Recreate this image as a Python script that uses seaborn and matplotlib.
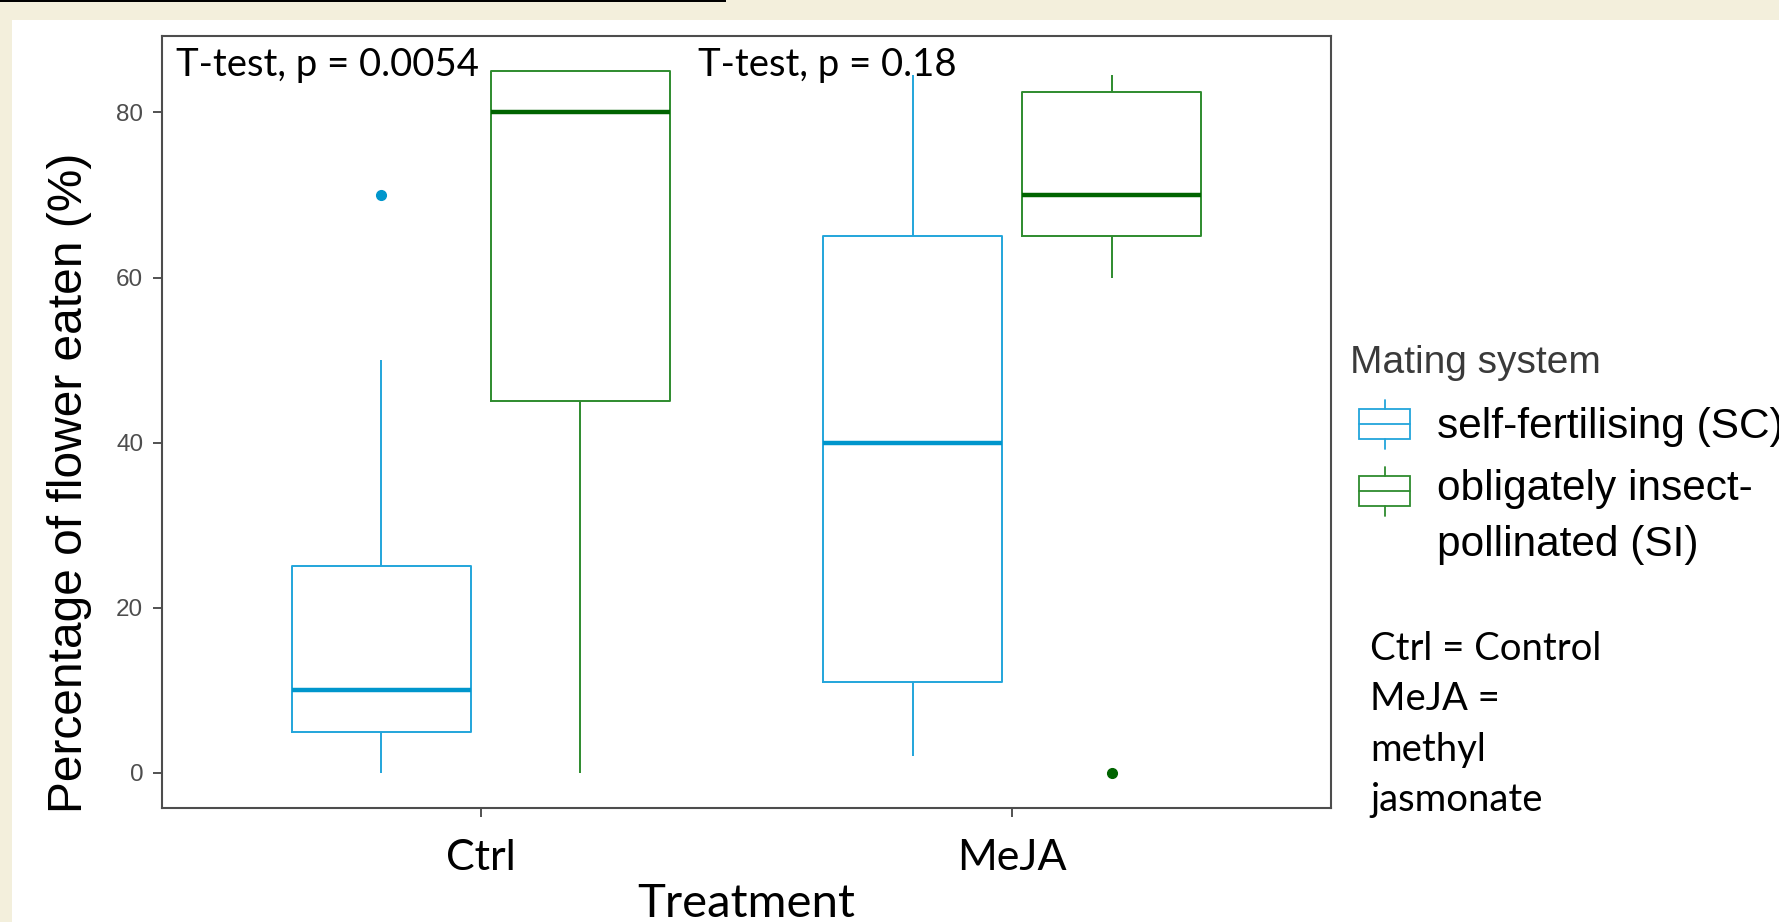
import pandas as pd
import seaborn as sns
import matplotlib.pyplot as plt
from matplotlib.patches import Rectangle, Patch
from matplotlib.lines import Line2D
from matplotlib.legend_handler import HandlerBase
from matplotlib.colors import to_hex

# Data: percentage of flower eaten, per treatment and mating system
treatments = ["Ctrl", "MeJA"]
systems = ["self-fertilising (SC)", "obligately insect-\npollinated (SI)"]
ctrl_sc = [0, 5, 5, 10, 10, 20, 25, 50, 70]
ctrl_si = [0, 40, 45, 70, 80, 80, 85, 85, 85]
meja_sc = [2, 10, 11, 30, 40, 50, 65, 80, 84.5]
meja_si = [0, 60, 65, 70, 70, 80, 82.5, 84, 84.5]
p_labels = ["T-test, p = 0.0054", "T-test, p = 0.18"]
y_ticks = [0, 20, 40, 60, 80]

groups = [("Ctrl", systems[0], ctrl_sc), ("Ctrl", systems[1], ctrl_si),
          ("MeJA", systems[0], meja_sc), ("MeJA", systems[1], meja_si)]
df = pd.DataFrame([{"Treatment": t, "Mating": m, "pct": v}
                   for t, m, vals in groups for v in vals])

blue_line, blue_dark = "#22a5db", "#0096cc"
green_line, green_dark = "#2e8b2e", "#006400"
dark_of = {blue_line: blue_dark, green_line: green_dark}

sns.set_style("white")
plt.rcParams["text.color"] = "black"
plt.rcParams["axes.labelcolor"] = "black"

fig = plt.figure(figsize=(17.79, 9.22), dpi=100, facecolor="#f3efdc")
# white slide panel and thin black rule at the top
fig.patches.append(Rectangle((12 / 1779, 0), 1, 1 - 20 / 922, transform=fig.transFigure,
                             facecolor="white", edgecolor="none", zorder=-10))
fig.patches.append(Rectangle((0, 1 - 2 / 922), 726 / 1779, 2 / 922, transform=fig.transFigure,
                             facecolor="black", edgecolor="none", zorder=-10))

ax = fig.add_axes([162 / 1779, 114 / 922, 1169 / 1779, 772 / 922])
ax.set_facecolor("white")

sns.boxplot(data=df, x="Treatment", y="pct", hue="Mating", order=treatments,
            hue_order=systems, palette=[blue_line, green_line], fill=False,
            width=0.75, gap=0.1, linewidth=1.4, showcaps=False, fliersize=7,
            flierprops={"marker": "o"}, medianprops={"linewidth": 3.2},
            legend=False, ax=ax)

# darker medians and solid outlier dots
for line in ax.lines:
    c = to_hex(line.get_color())
    if line.get_marker() == "o":
        c = to_hex(line.get_markeredgecolor())
        d = dark_of.get(c, c)
        line.set_markeredgecolor(d)
        line.set_markerfacecolor(d)
    elif line.get_linewidth() > 2:
        line.set_color(dark_of.get(c, c))

ax.set_xlim(-0.6, 1.6)
ax.set_ylim(-4.25, 89.25)
ax.set_yticks(y_ticks)
ax.set_yticklabels([str(v) for v in y_ticks], family="Liberation Sans", fontsize=17.5,
                   color="#4d4d4d")
ax.set_xticks([0, 1])
ax.set_xticklabels(treatments, family="Lato", fontsize=31, color="black")
ax.tick_params(axis="both", length=6.5, width=1.2, color="#333333", left=True, bottom=True)
ax.tick_params(axis="y", pad=7)
ax.tick_params(axis="x", pad=16)
for s in ax.spines.values():
    s.set_visible(True)
    s.set_color("#4d4d4d")
    s.set_linewidth(1.5)

ax.set_xlabel("Treatment", family="Lato", fontsize=34, labelpad=4)
ax.set_ylabel("Percentage of flower eaten (%)", family="Liberation Sans", fontsize=34.5)
ax.yaxis.set_label_coords(-0.06, 0.421)

ax.text(-0.574, 84.4, p_labels[0], family="Lato", fontsize=27.5, va="baseline")
ax.text(0.409, 84.4, p_labels[1], family="Lato", fontsize=27.5, va="baseline")


class BoxKey(HandlerBase):
    # ggplot-style boxplot key; dy lifts the glyph to the first line of a wrapped label
    def __init__(self, dy=0.0):
        super().__init__()
        self.dy = dy

    def create_artists(self, legend, orig_handle, xdescent, ydescent, width, height,
                       fontsize, trans):
        c = orig_handle.get_edgecolor()
        gw, gh = 36.7, 35.3
        x0 = -xdescent + 6.5
        y0 = -ydescent + (height - gh) / 2 + self.dy * fontsize
        xm = x0 + gw / 2
        b0, b1 = y0 + 0.19 * gh, y0 + 0.81 * gh
        kw = dict(color=c, lw=1.3, transform=trans)
        box = Rectangle((x0, b0), gw, b1 - b0, fill=False, edgecolor=c, lw=1.3,
                        transform=trans)
        med = Line2D([x0, x0 + gw], [(b0 + b1) / 2] * 2, **kw)
        w1 = Line2D([xm, xm], [y0, b0], **kw)
        w2 = Line2D([xm, xm], [b1, y0 + gh], **kw)
        return [box, med, w1, w2]


h_sc, h_si = Patch(edgecolor=blue_line), Patch(edgecolor=green_line)
leg = ax.legend([h_sc, h_si], systems, title="Mating system", loc="upper left",
                bbox_to_anchor=(1350 / 1779, 1 - 345 / 922), bbox_transform=fig.transFigure,
                frameon=False, borderpad=0, borderaxespad=0, handlelength=1.416,
                handleheight=1.15, handletextpad=0.646, labelspacing=0.52,
                prop={"family": "Liberation Sans", "size": 30.5},
                title_fontproperties={"family": "Liberation Sans", "size": 28},
                alignment="left",
                handler_map={h_sc: BoxKey(0.0), h_si: BoxKey(0.64)})
leg.get_title().set_color("#3a3a3a")
for t in leg.get_texts():
    t.set_linespacing(1.5)
    t.set_color("black")

fig.text(1370 / 1779, 1 - 811 / 922, "Ctrl = Control\nMeJA =\nmethyl\njasmonate",
         family="Lato", fontsize=27.5, va="baseline", linespacing=1.5)

fig.savefig("out.png", dpi=100, facecolor=fig.get_facecolor())
